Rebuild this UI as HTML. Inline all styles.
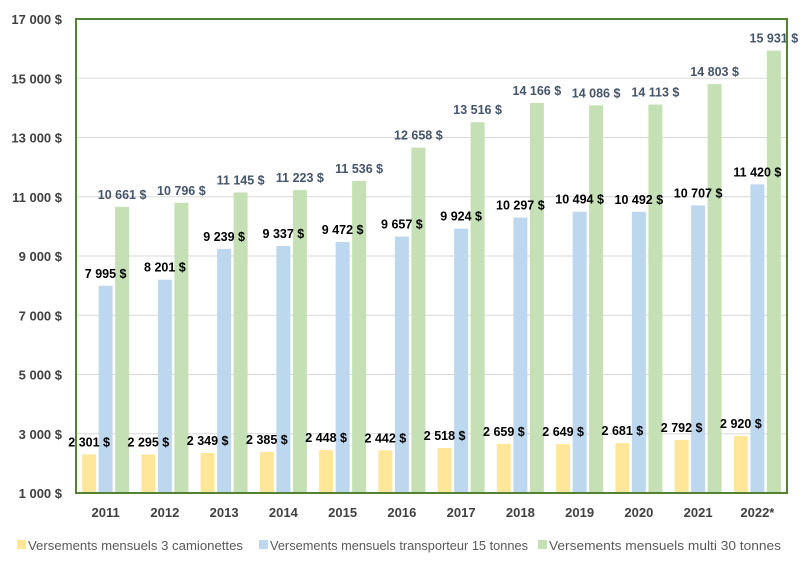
<!DOCTYPE html>
<html><head><meta charset="utf-8"><style>
body{margin:0;background:#fff;width:805px;height:568px;overflow:hidden;font-family:"Liberation Sans",Arial,sans-serif}
</style></head><body>
<svg id="chart" width="805" height="568" xmlns="http://www.w3.org/2000/svg"></svg>
<script>
const years=["2011","2012","2013","2014","2015","2016","2017","2018","2019","2020","2021","2022*"];
const camionettes=[2301,2295,2349,2385,2448,2442,2518,2659,2649,2681,2792,2920];
const transporteur=[7995,8201,9239,9337,9472,9657,9924,10297,10494,10492,10707,11420];
const multi=[10661,10796,11145,11223,11536,12658,13516,14166,14086,14113,14803,15931];
const yTicks=[1000,3000,5000,7000,9000,11000,13000,15000,17000];
const seriesNames=["Versements mensuels 3 camionettes","Versements mensuels transporteur 15 tonnes","Versements mensuels multi 30 tonnes"];

const NS="http://www.w3.org/2000/svg";
const svg=document.getElementById('chart');
const L=76,R=787,T=19,B=493,ymin=1000,ymax=17000;
const y=v=>B-(v-ymin)/(ymax-ymin)*(B-T);
const bw=(R-L)/years.length;
const xc=i=>L+bw*(i+0.5);
function mk(tag,attrs,txt){const e=document.createElementNS(NS,tag);for(const k in attrs)e.setAttribute(k,attrs[k]);if(txt!==undefined)e.textContent=txt;svg.appendChild(e);return e;}
const fmt=v=>String(v).replace(/\B(?=(\d{3})+(?!\d))/g,' ')+' $';

yTicks.forEach(t=>{
  if(t>ymin&&t<ymax){const g=mk('line',{x1:L,x2:R,y1:y(t),y2:y(t),stroke:'#d9d9d9','stroke-width':1});
  
  }
  const tl=mk('text',{x:62,y:y(t)+5,'text-anchor':'end','font-size':13,'font-weight':'bold',fill:'#404040'},fmt(t));
  
  
});

const series=[camionettes,transporteur,multi];
const colors=['#ffe699','#bdd7ee','#c5e0b4'];
const lblColors=['#000','#000','#44546a'];
const offs=[-16.5,0,16.5];
years.forEach((yr,i)=>{
  series.forEach((s,k)=>{
    const cx=xc(i)+offs[k];
    const r=mk('rect',{x:cx-7,y:y(s[i]),width:14,height:B-y(s[i]),fill:colors[k]});
    
    
  });
  series.forEach((s,k)=>{
    const cx=xc(i)+offs[k];
    const t=mk('text',{x:cx,y:y(s[i])-8,'text-anchor':'middle','font-size':12.5,'font-weight':'bold',fill:lblColors[k]},fmt(s[i]));
    
    
  });
  const xl=mk('text',{x:xc(i),y:517,'text-anchor':'middle','font-size':13,'font-weight':'bold',fill:'#404040'},yr);
  
  
});

const fr=mk('rect',{x:L,y:T,width:R-L,height:B-T,fill:'none',stroke:'#548235','stroke-width':2});



const lx=[17,259,538];
const lw=[215,258,232];
seriesNames.forEach((n,k)=>{
  const sw=mk('rect',{x:lx[k],y:540,width:9,height:9,fill:colors[k]});
  
  
  const t=mk('text',{x:lx[k]+11,y:550,'font-size':12.5,fill:'#595959',textLength:lw[k],lengthAdjust:'spacingAndGlyphs'},n);
  
  
});
</script>
</body></html>
